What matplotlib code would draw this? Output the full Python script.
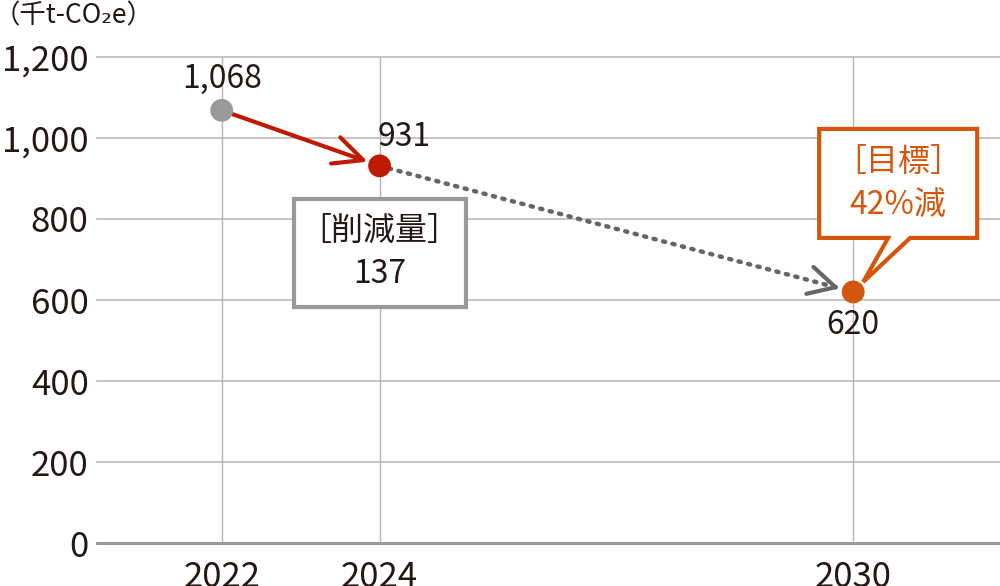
import matplotlib
matplotlib.use("Agg")
import matplotlib.pyplot as plt
import matplotlib.transforms as mtransforms
from matplotlib.patches import Polygon

plt.rcParams['font.family'] = ['Noto Sans CJK JP', 'DejaVu Sans']

# data
years = [2022, 2024, 2030]
values = [1068, 931, 620]
value_labels = ["1,068", "931", "620"]
point_colors = ["#999999", "#c01a00", "#d4560c"]
y_ticks = [0, 200, 400, 600, 800, 1000, 1200]
unit_label = "（千t-CO₂e）"
reduction_label = "［削減量］\n137"
target_label = "［目標］\n42%減"

fig = plt.figure(figsize=(10, 5.86), dpi=100)
ax = fig.add_axes([0.097, 0.073, 0.903, 0.83])
ax.set_xlim(2020.42, 2031.86)
ax.set_ylim(0, 1200)

# grid
for y in y_ticks:
    if y == 0:
        ax.axhline(y, color="#999999", lw=2.2, zorder=1, clip_on=False)
    else:
        ax.axhline(y, color="#b4b4b4", lw=1.1, zorder=1, clip_on=False)
for x in years:
    ax.axvline(x, ymin=-0.01, ymax=1, color="#b4b4b4", lw=1.0, zorder=1)

for s in ax.spines.values():
    s.set_visible(False)
ax.set_yticks(y_ticks)
ax.set_yticklabels([f"{v:,}" for v in y_ticks])
ax.set_xticks(years)
ax.set_xticklabels([str(y) for y in years])
ax.tick_params(length=0, labelsize=25, labelcolor="#231815")
ax.tick_params(axis="y", pad=6)
ax.tick_params(axis="x", pad=12)

# red arrow 2022 -> 2024
ax.annotate("", xy=(years[1], values[1]), xytext=(years[0], values[0]),
            arrowprops=dict(arrowstyle="->,head_length=2.1,head_width=1.0", color="#c01a00",
                            lw=3, shrinkA=5, shrinkB=9), zorder=3)

# dotted line 2024 -> 2030, with a solid open head
ax.annotate("", xy=(years[2], values[2]), xytext=(years[1], values[1]),
            arrowprops=dict(arrowstyle="-", color="#666666",
                            lw=3.2, linestyle=(0, (0.5, 1.7)), capstyle="round",
                            shrinkA=7, shrinkB=12), zorder=3)
f = 0.96
ax.annotate("", xy=(years[2], values[2]),
            xytext=(years[1] + f * (years[2] - years[1]), values[1] + f * (values[2] - values[1])),
            arrowprops=dict(arrowstyle="->,head_length=1.9,head_width=1.0", color="#666666",
                            lw=3, shrinkA=0, shrinkB=10), zorder=3)

ax.scatter(years, values, s=270, c=point_colors, zorder=4, linewidths=0)

# value labels
ax.annotate(value_labels[0], (years[0], values[0]), xytext=(0, 11), textcoords="offset points",
            ha="center", va="bottom", fontsize=23, color="#231815")
ax.annotate(value_labels[1], (years[1], values[1]), xytext=(18, 9), textcoords="offset points",
            ha="center", va="bottom", fontsize=23, color="#231815")
ax.annotate(value_labels[2], (years[2], values[2]), xytext=(0, -12), textcoords="offset points",
            ha="center", va="top", fontsize=23, color="#231815")

# callout boxes, vertices in pixels offset from the data point (dpi 100 -> /100 inches)
def px_box(x, y, verts, **kw):
    trans = fig.dpi_scale_trans + mtransforms.ScaledTranslation(x, y, ax.transData)
    pts = [(vx / 100, vy / 100) for vx, vy in verts]
    ax.add_patch(Polygon(pts, closed=True, transform=trans, clip_on=False, **kw))

px_box(years[1], values[1], [(-86, -33), (86, -33), (86, -141), (-86, -141)],
       facecolor="white", edgecolor="#999999", lw=3, zorder=5, joinstyle="miter")
ax.annotate(reduction_label, (years[1], values[1]), xytext=(0, -87), textcoords="offset pixels",
            ha="center", va="center", fontsize=23, color="#231815", linespacing=1.45, zorder=6)

px_box(years[2], values[2], [(-34, 163), (124, 163), (124, 54), (57, 54), (10, 10), (35, 54), (-34, 54)],
       facecolor="white", edgecolor="#d4560c", lw=3, zorder=5, joinstyle="miter")
ax.annotate(target_label, (years[2], values[2]), xytext=(45, 108), textcoords="offset pixels",
            ha="center", va="center", fontsize=23, color="#d4560c", linespacing=1.45, zorder=6)

fig.text(-0.006, 0.973, unit_label, ha="left", va="center", fontsize=19, color="#231815")

fig.savefig("out.png", dpi=100, facecolor="white")
